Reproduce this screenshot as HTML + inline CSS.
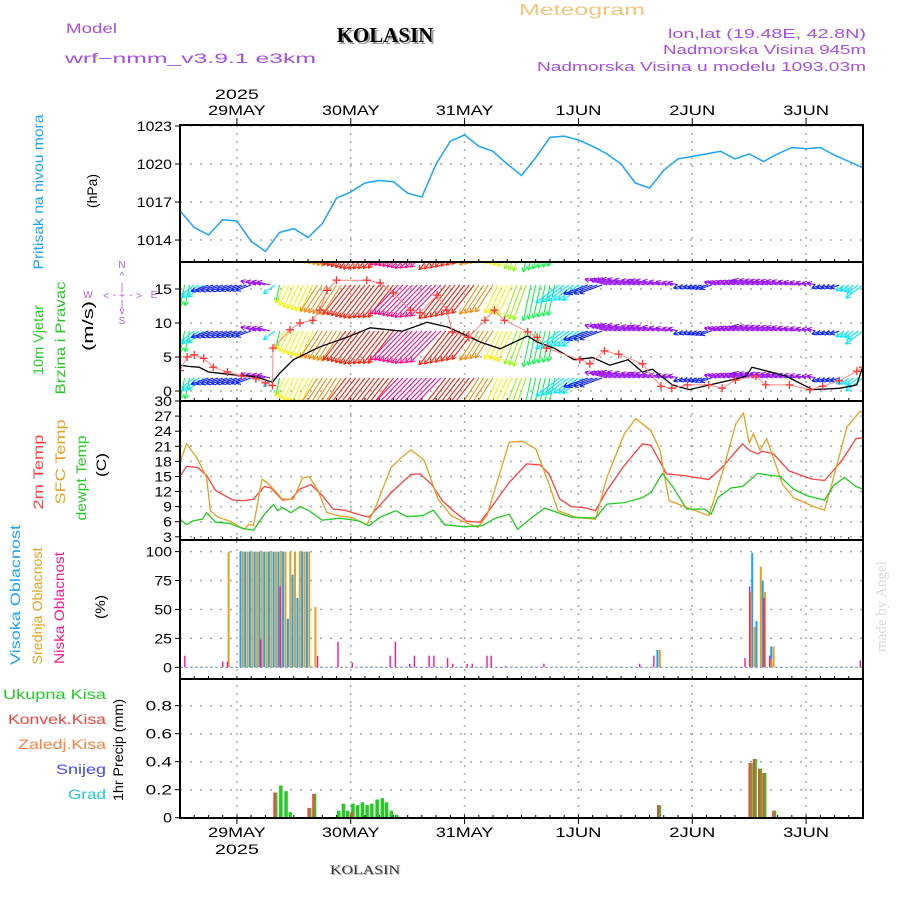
<!DOCTYPE html>
<html><head><meta charset="utf-8">
<style>
html,body{margin:0;padding:0;background:#fff;}
svg{display:block;}
text{font-family:"Liberation Sans",sans-serif;}
</style></head>
<body>
<svg id="chart" width="900" height="900" viewBox="0 0 900 900" xmlns="http://www.w3.org/2000/svg">
<text x="66" y="33" font-size="14" fill="#a64ee6" textLength="51" lengthAdjust="spacingAndGlyphs">Model</text>
<text x="65" y="63" font-size="14" fill="#a64ee6" textLength="251" lengthAdjust="spacingAndGlyphs">wrf−nmm_v3.9.1  e3km</text>
<text x="387" y="44" font-size="21" font-weight="bold" fill="#999" text-anchor="middle" style="font-family:'Liberation Serif',serif">KOLASIN</text>
<text x="385" y="42" font-size="21" font-weight="bold" fill="#000" text-anchor="middle" style="font-family:'Liberation Serif',serif">KOLASIN</text>
<text x="519" y="15" font-size="16" fill="#f2c67a" textLength="126" lengthAdjust="spacingAndGlyphs">Meteogram</text>
<text x="866" y="38" font-size="13" fill="#a64ee6" text-anchor="end" textLength="198" lengthAdjust="spacingAndGlyphs">lon,lat (19.48E, 42.8N)</text>
<text x="866" y="54" font-size="13" fill="#a64ee6" text-anchor="end" textLength="203" lengthAdjust="spacingAndGlyphs">Nadmorska Visina 945m</text>
<text x="866" y="71" font-size="13" fill="#a64ee6" text-anchor="end" textLength="329" lengthAdjust="spacingAndGlyphs">Nadmorska Visina u modelu 1093.03m</text>
<text x="0" y="0" font-size="15" fill="#d8dcd8" transform="translate(886,652) rotate(-90)" style="font-family:'Liberation Serif',serif">made by Angel</text>
<text x="366" y="875" font-size="13" fill="#aaa" text-anchor="middle" textLength="70" lengthAdjust="spacingAndGlyphs" style="font-family:'Liberation Serif',serif">KOLASIN</text>
<text x="365" y="874" font-size="13" fill="#333" text-anchor="middle" textLength="70" lengthAdjust="spacingAndGlyphs" style="font-family:'Liberation Serif',serif">KOLASIN</text>
<g id="g"></g>
</svg>
<script>
const dayLabels = ["29MAY","30MAY","31MAY","1JUN","2JUN","3JUN"];
const dayHours = [12,36,60,84,108,132];
const yearLabel = "2025";
const pressTicks = [1014,1017,1020,1023];
const windTicks = [0,5,10,15];
const tempTicks = [3,6,9,12,15,18,21,24,27,30];
const cloudTicks = [0,25,50,75,100];
const precipTicks = [0,0.2,0.4,0.6,0.8];

const pressure = [1016.3,1015.0,1014.4,1015.6,1015.5,1013.9,1013.1,1014.6,1014.9,1014.2,1015.3,1017.3,1017.8,1018.5,1018.7,1018.6,1017.7,1017.4,1020.0,1021.8,1022.3,1021.4,1021.0,1020.0,1019.1,1020.5,1022.1,1022.2,1021.9,1021.4,1020.8,1020.0,1018.5,1018.1,1019.5,1020.4,1020.6,1020.8,1021.0,1020.4,1020.8,1020.2,1020.8,1021.3,1021.2,1021.3,1020.7,1020.2,1019.7];

const t2mHours = [0,1.4,3.7,5.6,7.5,9.4,11.2,13.6,15.5,17.8,19.2,21.6,23.4,25.3,27.6,30,32.3,34.7,37.5,39.8,41.7,45,48.7,50.6,53,55.3,57.6,60.4,63.3,65.6,69.4,73.1,75.9,77.8,80.1,82.5,85.3,87.6,90,93.7,97.5,99.3,102.6,105.9,111.5,114.3,118.6,120,121.8,122.8,125.1,128.4,133.1,135.9,139.6,142.5,144];
const t2m = [15.0,17.0,16.8,15.2,12.2,11.2,10.3,10.2,10.5,13.0,12.7,10.3,10.5,12.5,13.4,11.2,8.5,8.3,7.5,6.9,8.8,12.2,15.4,15.5,13.5,10.2,8.2,6.1,5.9,8.8,13.8,17.5,17.3,15.5,10.5,9.0,8.8,8.2,12.2,17.2,21.5,21.2,15.5,15.2,14.4,16.8,21.5,20.2,19.5,20.0,19.5,16.1,14.5,14.2,18.2,22.5,22.7];
const sfcHours = [0,1.4,3.7,5.6,6.4,8,10.3,12.2,13.6,14.5,15.5,17.3,18.7,21.6,23.9,25.8,27.2,29.1,30.9,33.3,36.1,39.4,41.2,44.5,46.4,48.7,51.5,54.4,57.2,60,62.8,64.7,69.4,72.2,75,77.8,79.7,83.4,87.6,90,93.7,96.1,99.3,101.2,103.1,105.9,111.5,114.3,117.2,118.8,120,120.9,122.3,123.7,127,129.3,133.6,135.9,137.8,140.6,143.4,144];
const sfcTemp = [17.8,21.5,18.5,14.8,8.2,6.9,6.2,5.2,4.5,5.5,5.2,14.5,13.5,10.5,10.5,14.7,15.0,12.2,7.9,7.2,6.9,5.4,8.8,16.8,18.5,20.3,18.2,10.5,7.2,5.9,4.9,7.2,21.8,22.0,20.5,13.5,8.2,6.9,6.5,14.8,23.5,26.5,24.1,20.2,10.2,9.2,7.2,15.5,25.5,27.6,21.6,23.5,20.2,22.5,13.5,10.8,9.0,8.3,14.8,24.8,28.0,27.6];
const dewHours = [0,1.4,2.8,4.7,5.6,7.5,10.3,13.1,15.5,17.8,19.7,20.6,21.6,23.4,25.3,27.2,30,33.7,37.5,39.8,42.2,45.5,47.8,51.1,53.4,55.8,60,63.7,66.5,69.4,71.2,74,76.9,79.7,82.5,87.6,90,93.7,97.5,99.3,101.7,104,106.8,110.6,112,113.4,116.2,118.6,121.8,124.6,126.5,129.3,132.1,135.9,137.8,140.1,142.5,144];
const dewTemp = [6.5,5.4,6.2,6.5,7.8,5.9,5.7,4.7,4.3,7.5,9.4,8.2,8.8,7.8,9.0,8.2,6.3,6.7,6.2,5.2,6.9,8.2,7.0,7.2,8.3,5.4,5.0,5.2,6.7,7.5,4.5,6.7,8.7,7.8,6.9,6.7,9.5,9.8,10.8,11.8,15.6,12.8,8.5,8.5,7.5,10.8,12.7,13.0,15.6,15.2,15.0,12.5,11.2,10.3,13.2,14.8,13.0,12.5];

const speedHours = [0,2,4,6,11,16,18.5,19.5,21,23.9,29.5,35.2,40.1,46.8,52.1,56.5,63.3,67.5,73.3,75.3,78.9,83.1,87.1,90.6,94.5,97.5,99.6,103.8,107.4,117.9,119.4,120.6,127.7,133.4,139,142.7,144];
const windSpeed = [3.8,3.6,3.5,2.8,2.4,2.1,1.5,1.3,2.6,4.6,6.5,7.9,9.3,8.8,10.1,9.4,7.2,6.2,8.1,7.2,6.3,4.6,4.9,3.8,4.6,2.8,3.2,0.9,0.2,1.9,2.2,3.5,2.2,0.2,0.4,0.9,3.7];
const gustHours = [0,1.5,3,5,7,10,13,16,18,19.5,19.6,23.2,25.3,28,29.5,31,33,39.4,42.2,45,48.6,50.6,54.2,56.2,57.4,60.9,64.3,66.3,68.4,73.3,75.3,77.3,84.3,86.4,89.5,92.5,97.5,101.4,103.7,107,111.5,114.3,117.1,121.4,123.5,128.5,132.8,135.5,139,142.7,144];
const windGust = [3.0,5.0,5.3,4.8,3.5,2.8,2.2,1.8,1.2,0.8,6.3,9.0,10.0,10.4,11.9,14.8,16.3,16.3,15.9,14.4,11.9,11.5,14.1,11.9,8.7,7.9,10.4,11.9,10.4,8.7,7.9,6.3,4.6,4.0,5.9,5.4,4.0,0.7,0.4,0.9,0.9,0.4,1.6,2.2,0.9,0.9,0.2,0.7,1.5,2.9,3.5];
const dirStartHours = [0,3,6,16,20,21,22,29,35,46,56,63,67,71,74,80,86,90,106,113,135,140];
const dirValues     = [192,233,250,285,233,192,205,213,218,224,218,213,205,200,192,233,250,285,250,285,250,233];

const cloudHighHours = [13,14,15,16,17,18,19,20,21,22,23,24,25,26,27,100.9,120.9,121.8,123.1,124.9];
const cloudHigh      = [100,100,100,100,100,100,100,100,100,100,42,80,60,100,100,15,99,40,75,18];
const cloudMidHours = [10,13,14,15,16,17,18,19,20,21,22,23,24,25,26,27,28.3,100.9,120.1,120.9,122.2,123.1,124.3,124.9];
const cloudMid      = [100,100,100,100,100,100,100,100,100,100,100,100,100,100,100,100,52,15,65,35,87,65,7,18];
const cloudLowHours = [1,9,10,17,21.1,29,33.3,36.3,44.3,45.4,48.4,49.4,52.5,53.5,56.4,57.5,60.5,61.6,64.7,65.6,68.6,76.7,96.9,99.9,119.1,120.1,123.1,124.3,143.4];
const cloudLow      = [10,5,5,24,70,10,22,4,10,22,3,10,10,10,8,3,3,3,10,10,1,3,3,10,8,70,60,10,6];

const precipHours = [20,21.1,22.2,23.1,27.2,28.2,33.3,34.3,35.2,36.3,37.3,38.3,39.3,40.3,41.4,42.5,43.4,44.4,45.5,100.9,120.2,121.1,122.2,123.1,125.2];
const precipTotal = [0.18,0.23,0.19,0.04,0.07,0.17,0.05,0.10,0.05,0.10,0.09,0.11,0.09,0.10,0.13,0.14,0.11,0.05,0.02,0.09,0.39,0.42,0.35,0.32,0.05];
const precipConv  = [0.18,0,0,0,0.07,0.17,0,0,0,0.04,0,0,0,0,0,0,0,0,0,0.09,0.39,0.42,0.35,0.32,0.05];

const NS = "http://www.w3.org/2000/svg";
const G = document.getElementById('g');
const X0 = 180, X1 = 863, HMAX = 144;
const xS = h => X0 + h * (X1 - X0) / HMAX;
const yP = v => 126 + (1023 - v) * 12.67;
const yW = v => 391 - v * 6.8;
const yT = v => 401 + (30 - v) * 5.03;
const yC = v => 667.3 - v * 1.157;
const yR = v => 817.7 - v * 140;
const panels = [[125,262],[262,401],[401,540],[540,679],[679,818]];

function mk(tag, attrs, parent) {
  const e = document.createElementNS(NS, tag);
  for (const k in attrs) e.setAttribute(k, attrs[k]);
  (parent || G).appendChild(e);
  return e;
}
function txt(x, y, s, size, fill, anchor, rot, tl) {
  const t = mk('text', {x: x, y: y, 'font-size': size, fill: fill, 'text-anchor': anchor || 'start'});
  if (rot) t.setAttribute('transform', 'rotate(-90 ' + x + ' ' + y + ')');
  if (tl) { t.setAttribute('textLength', tl); t.setAttribute('lengthAdjust', 'spacingAndGlyphs'); }
  t.textContent = s;
  return t;
}

const defs = mk('defs', {});
panels.forEach((p, i) => {
  const cp = mk('clipPath', {id: 'clip' + i}, defs);
  mk('rect', {x: X0, y: p[0], width: X1 - X0, height: p[1] - p[0]}, cp);
});

function hgrid(ticks, fy, fmt) {
  ticks.forEach(v => {
    const y = fy(v);
    const l = mk('line', {x1: X0, x2: X1, y1: y, y2: y, stroke: '#aaa', 'stroke-width': 1.5, 'stroke-dasharray': '2 8'});
    
    
    mk('line', {x1: X0 - 5, x2: X0, y1: y, y2: y, stroke: '#000', 'stroke-width': 1});
    const s = fmt(v);
    const t = txt(172, y + 5, s, 14, '#000', 'end', false, s.length * 8.8);
    
    
  });
}
hgrid(pressTicks, yP, v => String(v));
hgrid(windTicks, yW, v => String(v));
hgrid(tempTicks, yT, v => String(v));
hgrid(cloudTicks, yC, v => String(v));
hgrid(precipTicks, yR, v => v === 0 ? '0' : v.toFixed(1));

dayHours.forEach((h, i) => {
  const x = xS(h);
  const l = mk('line', {x1: x, x2: x, y1: 125, y2: 818, stroke: '#aaa', 'stroke-width': 1.5, 'stroke-dasharray': '2 6'});
  
  
  mk('line', {x1: x, x2: x, y1: 118, y2: 125, stroke: '#000'});
  mk('line', {x1: x, x2: x, y1: 818, y2: 824, stroke: '#000'});
  const w = dayLabels[i].length * 11.5;
  const t1 = txt(x, 115, dayLabels[i], 14, '#000', 'middle', false, w);
  
  
  const t2 = txt(x, 837, dayLabels[i], 14, '#000', 'middle', false, w);
  
  
});
txt(xS(12), 99, yearLabel, 14, '#000', 'middle', false, 44);
txt(xS(12), 854, yearLabel, 14, '#000', 'middle', false, 44);
panels.forEach(p => {
  for (let h = 0; h <= HMAX; h += 3) {
    mk('line', {x1: xS(h), x2: xS(h), y1: p[1] - 3, y2: p[1], stroke: '#000', 'stroke-width': 1});
  }
});

function polyline(hs, vs, fy, color, name, clip, w) {
  const pts = hs.map((h, i) => xS(h).toFixed(1) + ',' + fy(vs[i]).toFixed(1)).join(' ');
  const pl = mk('polyline', {points: pts, fill: 'none', stroke: color, 'stroke-width': w || 1.3, 'clip-path': 'url(#clip' + clip + ')'});
  
  
  return pl;
}

polyline(pressure.map((v, i) => i * 3), pressure, yP, '#1aa3ff', 'pressure-line', 0, 1.5);

function interp(hs, vs, h) {
  if (h <= hs[0]) return vs[0];
  for (let i = 1; i < hs.length; i++) if (h <= hs[i]) {
    const f = (h - hs[i-1]) / (hs[i] - hs[i-1]);
    return vs[i-1] + f * (vs[i] - vs[i-1]);
  }
  return vs[vs.length - 1];
}
function dirAt(h) { let d = dirValues[0]; dirStartHours.forEach((s, i) => { if (h >= s) d = dirValues[i]; }); return d; }
const hueTable = [[190,135],[200,85],[205,58],[213,32],[218,5],[224,330],[233,185],[250,235],[285,275]];
function hueFor(d) { let best = hueTable[0]; hueTable.forEach(r => { if (Math.abs(r[0]-d) < Math.abs(best[0]-d)) best = r; }); return best[1]; }
const windG = mk('g', {'clip-path': 'url(#clip1)'});


[236, 285, 331, 378].forEach(ry => {
  for (let h = 0; h <= HMAX; h++) {
    const d = dirAt(h), sp = interp(speedHours, windSpeed, h);
    const L = 8 + 3.7 * sp;
    const a = d * Math.PI / 180;
    const x = xS(h), ex = x + Math.sin(a) * L, ey = ry - Math.cos(a) * L;
    const col = 'hsl(' + hueFor(d) + ',95%,52%)';
    const bl = mk('path', {d: 'M' + x.toFixed(1) + ' ' + ry + 'L' + ex.toFixed(1) + ' ' + ey.toFixed(1) +
      'M' + ex.toFixed(1) + ' ' + ey.toFixed(1) + 'l' + (-Math.sin(a + 0.5) * 5).toFixed(1) + ' ' + (Math.cos(a + 0.5) * 5).toFixed(1) +
      'M' + ex.toFixed(1) + ' ' + ey.toFixed(1) + 'l' + (-Math.sin(a - 0.5) * 5).toFixed(1) + ' ' + (Math.cos(a - 0.5) * 5).toFixed(1),
      stroke: col, 'stroke-width': 1.1, fill: 'none'}, windG);
    
    
  }
});
polyline(speedHours, windSpeed, yW, '#000', 'wind-speed-line', 1, 1.3);
polyline(gustHours, windGust, yW, '#ff8888', 'wind-gust-line', 1, 1);
gustHours.forEach((h, i) => {
  const x = xS(h), y = yW(windGust[i]);
  const m = mk('path', {d: 'M' + (x-4) + ' ' + y + 'h8M' + x + ' ' + (y-4) + 'v8', stroke: '#ff3333', 'stroke-width': 1.3, 'clip-path': 'url(#clip1)'});
  
  
});

polyline(t2mHours, t2m, yT, '#ff4040', 't2m-line', 2, 1.3);
polyline(sfcHours, sfcTemp, yT, '#e8a020', 'sfc-temp-line', 2, 1.3);
polyline(dewHours, dewTemp, yT, '#22cc22', 'dewpoint-line', 2, 1.3);

mk('line', {x1: X0, x2: X1, y1: yC(0), y2: yC(0), stroke: '#88aacc', 'stroke-width': 1.2, 'stroke-dasharray': '3 2'});
function bars(hs, vs, fy, off, w, color, name, clip) {
  hs.forEach((h, i) => {
    if (vs[i] <= 0) return;
    const y = fy(vs[i]), y0 = fy(0);
    const r = mk('rect', {x: (xS(h) + off).toFixed(1), y: y.toFixed(1), width: w, height: (y0 - y).toFixed(1), fill: color, 'clip-path': 'url(#clip' + clip + ')'});
    
    
  });
}
bars(cloudHighHours, cloudHigh, yC, -2.2, 2, '#1aa3ff', 'high-cloud-bar', 3);
bars(cloudMidHours, cloudMid, yC, 0.2, 2, '#e8a020', 'mid-cloud-bar', 3);
bars(cloudLowHours, cloudLow, yC, -0.6, 1.4, '#ff1493', 'low-cloud-bar', 3);

mk('line', {x1: X0, x2: X1, y1: yR(0), y2: yR(0), stroke: '#000', 'stroke-width': 1.5, 'stroke-dasharray': '4 3'});
bars(precipHours, precipTotal, yR, -1, 3.5, '#22cc22', 'total-precip-bar', 4);
bars(precipHours, precipConv, yR, -1.6, 2.2, '#ff4040', 'convective-precip-bar', 4);

panels.forEach(p => {
  const r = mk('rect', {x: X0, y: p[0], width: X1 - X0, height: p[1] - p[0], fill: 'none', stroke: '#000', 'stroke-width': 2});
  
  
});

function lab(x, y, s, c, size, name, tl) {
  const t = txt(x, y, s, size || 14, c, 'middle', true, tl);
  
  
}
lab(43, 192, 'Pritisak na nivou mora', '#1aa3ff', 14, 'pressure-axis-title', 155);
lab(97, 191, '(hPa)', '#000', 14, 'pressure-unit', 34);
lab(43, 340, '10m Vjetar', '#22cc22', 14, 'wind-axis-title', 70);
lab(65, 338, 'Brzina i Pravac', '#22cc22', 14, 'wind-axis-subtitle', 113);
lab(93, 326, '(m/s)', '#000', 15, 'wind-unit', 50);
lab(43, 472, '2m Temp', '#ff4040', 14, 't2m-axis-title', 75);
lab(65, 462, 'SFC Temp', '#e8a020', 14, 'sfc-axis-title', 85);
lab(86, 478, 'dewpt Temp', '#22cc22', 14, 'dewpoint-axis-title', 85);
lab(106, 465, '(C)', '#000', 14, 'temp-unit', 24);
lab(20, 595, 'Visoka Oblacnost', '#1aa3ff', 14, 'high-cloud-title', 140);
lab(42, 606, 'Srednja Oblacnost', '#e8a020', 14, 'mid-cloud-title', 117);
lab(64, 608, 'Niska Oblacnost', '#ff1493', 14, 'low-cloud-title', 112);
lab(105, 607, '(%)', '#000', 14, 'cloud-unit', 24);
lab(123, 750, '1hr Precip (mm)', '#000', 14, 'precip-axis-title', 102);
[['Ukupna  Kisa','#22cc22',699,103],['Konvek.Kisa','#ff4040',724,98],['Zaledj.Kisa','#ff8040',749,88],['Snijeg','#4444ff',774,50],['Grad','#22cccc',799,38]].forEach(r => {
  const t = txt(106, r[2], r[0], 14, r[1], 'end', false, r[3]);
  
  
});
const cg = mk('g', {fill: '#b060e0', 'font-size': 10});


[['N',122,268],['^',122,279],['|',122,290],['W',88,298],['<',106,299],['-',114,298],['+',122,299],['-',131,298],['>',139,299],['E',154,298],['|',122,307],['v',122,314],['S',122,324]].forEach(c => {
  const t = mk('text', {x: c[1], y: c[2], 'text-anchor': 'middle'}, cg);
  t.textContent = c[0];
});
</script>
</body></html>
